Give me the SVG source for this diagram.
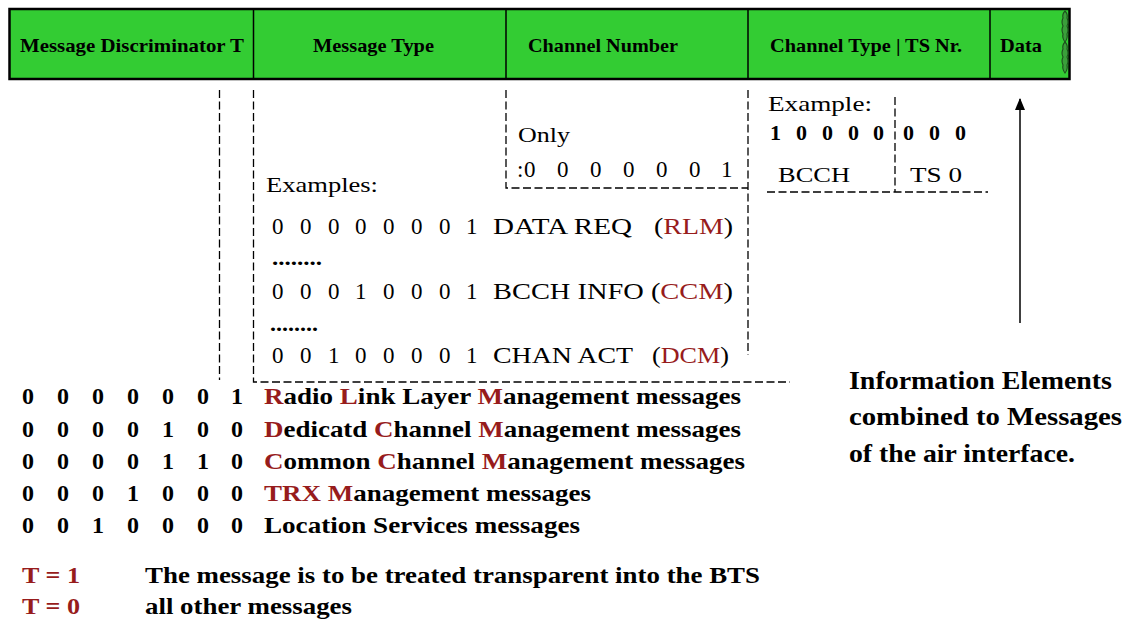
<svg xmlns="http://www.w3.org/2000/svg" width="1132" height="621" viewBox="0 0 1132 621" font-family="Liberation Serif">
  <style>
    .hdr { font-size: 19px; font-weight: bold; }
    .reg { font-size: 21px; }
    .num { font-size: 23px; }
    .bnum { font-size: 22px; font-weight: bold; }
    .lst { font-size: 24px; font-weight: bold; }
    .note { font-size: 25px; font-weight: bold; }
    .red { fill: #971c1c; }
    .dash { fill: none; stroke: #000; stroke-width: 1.3; stroke-dasharray: 8 3.5; }
    .solid { fill: none; stroke: #000; stroke-width: 1.5; }
  </style>
  <defs>
    <marker id="arrowhead" viewBox="0 0 12 10" refX="11" refY="5" markerWidth="12" markerHeight="10" markerUnits="userSpaceOnUse" orient="auto">
      <path d="M0,0 L12,5 L0,10 Z" fill="#000"/>
    </marker>
  </defs>
  <rect width="1132" height="621" fill="#fff"/>

  <!-- Header: fields of the message frame -->
  <g id="frame-header">
    <rect x="9.5" y="9" width="1060" height="70" fill="#33cc33" stroke="#000" stroke-width="2.5"/>
    <line class="solid" x1="253.5" y1="9" x2="253.5" y2="79"/>
    <line class="solid" x1="506" y1="9" x2="506" y2="79"/>
    <line class="solid" x1="748" y1="9" x2="748" y2="79"/>
    <line class="solid" x1="990" y1="9" x2="990" y2="79"/>
    <text class="hdr" font-family="Liberation Serif" x="20" y="52" textLength="224" lengthAdjust="spacingAndGlyphs">Message Discriminator  T</text>
    <text class="hdr" font-family="Liberation Serif" x="313" y="52" textLength="121" lengthAdjust="spacingAndGlyphs">Message Type</text>
    <text class="hdr" font-family="Liberation Serif" x="528" y="52" textLength="150" lengthAdjust="spacingAndGlyphs">Channel Number</text>
    <text class="hdr" font-family="Liberation Serif" x="770" y="52" textLength="192" lengthAdjust="spacingAndGlyphs">Channel Type | TS Nr.</text>
    <text class="hdr" font-family="Liberation Serif" x="1000" y="52" textLength="42" lengthAdjust="spacingAndGlyphs">Data</text>
    <!-- torn edge of the open-ended data field -->
    <path d="M1065,11 q-3,3 -2,7 q-2,4 0,8 q-2,4 0,8 q-1,4 2,8 q3,-4 2,-8 q2,-4 0,-8 q2,-4 0,-8 q1,-4 -2,-7 Z" fill="#3a9f3a" stroke="#1e4e1e" stroke-width="1.1"/>
    <path d="M1065,42 q-3,3 -2,7 q-2,4 0,8 q-2,4 0,8 q-1,4 2,8 q3,-4 2,-8 q2,-4 0,-8 q2,-4 0,-8 q1,-4 -2,-7 Z" fill="#3a9f3a" stroke="#1e4e1e" stroke-width="1.1"/>
  </g>

  <!-- Connectors: dashed field extents and the air-interface arrow -->
  <g id="connectors">
    <path class="dash" d="M219.5,90 V380"/>
    <path class="dash" d="M253.5,90 V382 H790"/>
    <path class="dash" d="M506,90 V188 H748"/>
    <path class="dash" d="M748,90 V355"/>
    <path class="dash" d="M895,97 V192"/>
    <path class="dash" d="M767,192 H988"/>
    <line x1="1020" y1="323" x2="1020" y2="99" stroke="#000" stroke-width="1.5" marker-end="url(#arrowhead)"/>
  </g>

  <!-- Message type examples -->
  <g id="message-type-examples" font-family="Liberation Serif">
    <text class="reg" x="266" y="192" textLength="112" lengthAdjust="spacingAndGlyphs">Examples:</text>
    <text class="num" x="272 300 328 355 383 411 439 466" y="234">00000001</text>
    <text class="num" x="493" y="234" textLength="139" lengthAdjust="spacingAndGlyphs">DATA REQ</text>
    <text class="num" x="654" y="234" textLength="79" lengthAdjust="spacingAndGlyphs">(<tspan class="red">RLM</tspan>)</text>
    <text class="bnum" x="272" y="265" textLength="50" lengthAdjust="spacingAndGlyphs">........</text>
    <text class="num" x="272 300 328 355 383 411 439 466" y="299">00010001</text>
    <text class="num" x="493" y="299" textLength="240" lengthAdjust="spacingAndGlyphs">BCCH INFO (<tspan class="red">CCM</tspan>)</text>
    <text class="bnum" x="270" y="331" textLength="48" lengthAdjust="spacingAndGlyphs">........</text>
    <text class="num" x="272 300 328 355 383 411 439 466" y="363">00100001</text>
    <text class="num" x="493" y="363" textLength="140" lengthAdjust="spacingAndGlyphs">CHAN ACT</text>
    <text class="num" x="652" y="363" textLength="77" lengthAdjust="spacingAndGlyphs">(<tspan class="red">DCM</tspan>)</text>
  </g>

  <!-- Channel number -->
  <g id="channel-number" font-family="Liberation Serif">
    <text class="reg" x="518" y="142" textLength="52" lengthAdjust="spacingAndGlyphs">Only</text>
    <text class="num" x="517 524 557 590 623 656 689 721" y="177">:0000001</text>
  </g>

  <!-- Channel type / timeslot example -->
  <g id="channel-type-example" font-family="Liberation Serif">
    <text class="reg" x="768" y="111" textLength="104" lengthAdjust="spacingAndGlyphs">Example:</text>
    <text class="bnum" x="770 796 822 848 873 903 929 955" y="140">10000000</text>
    <text class="reg" x="778" y="182" textLength="72" lengthAdjust="spacingAndGlyphs">BCCH</text>
    <text class="reg" x="910" y="182" textLength="52" lengthAdjust="spacingAndGlyphs">TS 0</text>
  </g>

  <!-- Message discriminator values -->
  <g id="discriminator-list" font-family="Liberation Serif">
    <text class="lst" x="22 57 92 127 162 197 231" y="404">0000001</text>
    <text class="lst" x="264" y="404" textLength="477" lengthAdjust="spacingAndGlyphs"><tspan class="red">R</tspan>adio <tspan class="red">L</tspan>ink Layer <tspan class="red">M</tspan>anagement messages</text>
    <text class="lst" x="22 57 92 127 162 197 231" y="437">0000100</text>
    <text class="lst" x="264" y="437" textLength="477" lengthAdjust="spacingAndGlyphs"><tspan class="red">D</tspan>edicatd <tspan class="red">C</tspan>hannel <tspan class="red">M</tspan>anagement messages</text>
    <text class="lst" x="22 57 92 127 162 197 231" y="469">0000110</text>
    <text class="lst" x="264" y="469" textLength="481" lengthAdjust="spacingAndGlyphs"><tspan class="red">C</tspan>ommon <tspan class="red">C</tspan>hannel <tspan class="red">M</tspan>anagement messages</text>
    <text class="lst" x="22 57 92 127 162 197 231" y="501">0001000</text>
    <text class="lst" x="264" y="501" textLength="327" lengthAdjust="spacingAndGlyphs"><tspan class="red">TRX M</tspan>anagement messages</text>
    <text class="lst" x="22 57 92 127 162 197 231" y="533">0010000</text>
    <text class="lst" x="264" y="533" textLength="316" lengthAdjust="spacingAndGlyphs">Location Services messages</text>
  </g>

  <!-- Meaning of the T bit -->
  <g id="t-bit-legend" font-family="Liberation Serif">
    <text class="lst red" x="22" y="583" textLength="58" lengthAdjust="spacingAndGlyphs">T = 1</text>
    <text class="lst" x="145" y="583" textLength="615" lengthAdjust="spacingAndGlyphs">The message is to be treated transparent into the BTS</text>
    <text class="lst red" x="22" y="614" textLength="58" lengthAdjust="spacingAndGlyphs">T = 0</text>
    <text class="lst" x="145" y="614" textLength="207" lengthAdjust="spacingAndGlyphs">all other messages</text>
  </g>

  <!-- Note on the air interface -->
  <g id="air-interface-note" font-family="Liberation Serif">
    <text class="note" x="849" y="389" textLength="263" lengthAdjust="spacingAndGlyphs">Information Elements</text>
    <text class="note" x="849" y="425" textLength="273" lengthAdjust="spacingAndGlyphs">combined to Messages</text>
    <text class="note" x="849" y="462" textLength="226" lengthAdjust="spacingAndGlyphs">of the air interface.</text>
  </g>
</svg>
